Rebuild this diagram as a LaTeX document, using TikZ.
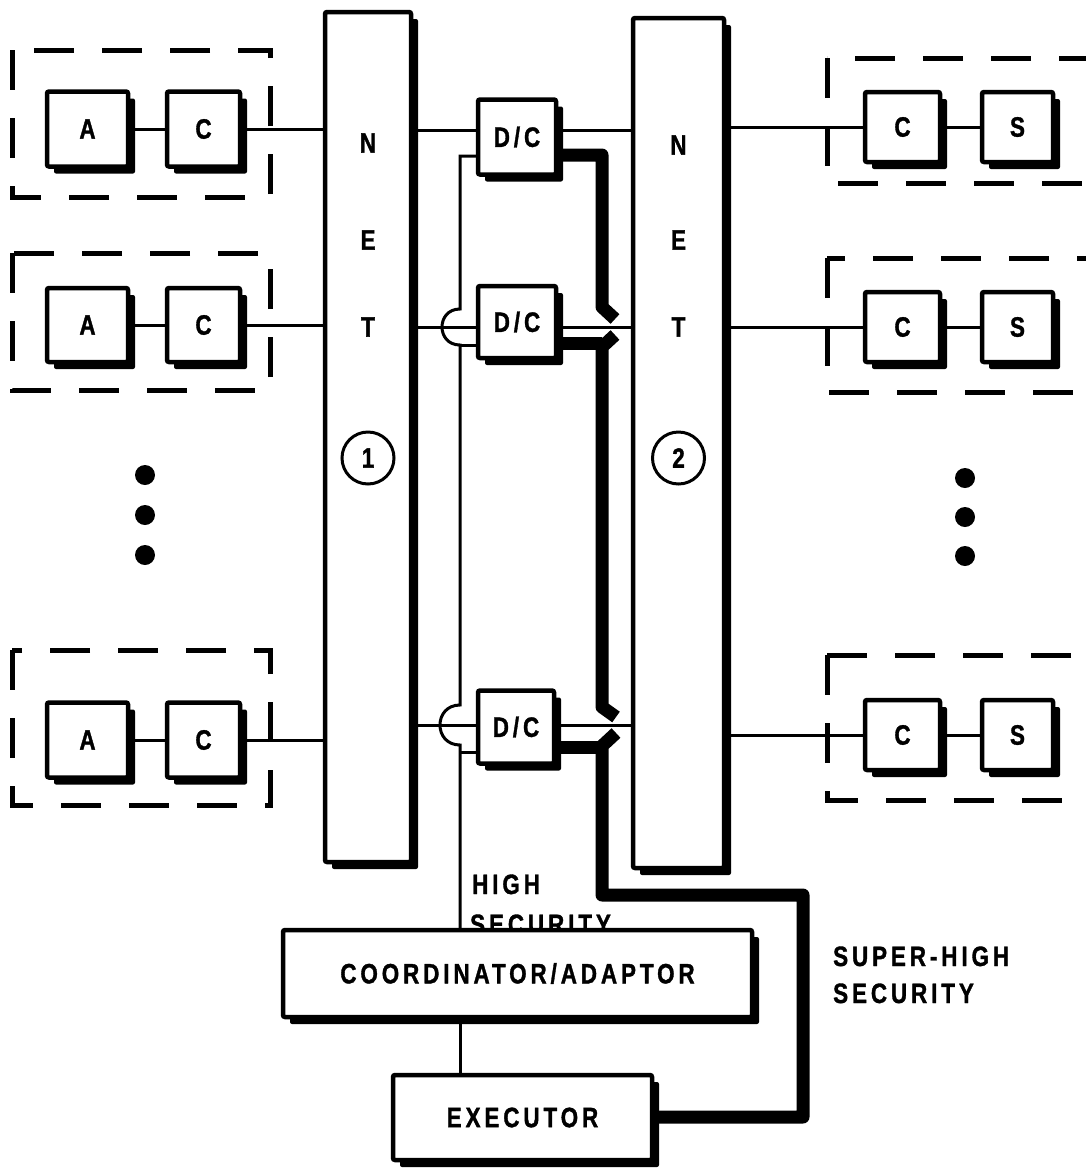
\documentclass[tikz,border=0pt]{standalone}
\usepackage{fontspec}
\newfontfamily\labfont{Liberation Sans}[FakeStretch=0.8,LetterSpace=14,FakeBold=1.2]
\usetikzlibrary{shadows}
\tikzset{
 lbl/.style={font=\labfont\bfseries\fontsize{28}{32}\selectfont},
 sbox/.style={draw, line width=4.5pt, fill=white, rounded corners=2pt, inner sep=0pt, lbl,
   drop shadow={shadow xshift=7pt, shadow yshift=-7pt, opacity=1, fill=black}},
 grp/.style={draw, line width=5pt, dash pattern=on 40pt off 28pt},
 wire/.style={line width=3pt},
 heavy/.style={line width=13pt, line join=round},
 dotn/.style={circle, fill=black, minimum size=20pt, inner sep=0pt},
 numc/.style={circle, draw, line width=3pt, fill=white, minimum size=52pt, inner sep=0pt, lbl},
 txt/.style={lbl, inner sep=0pt},
}
\begin{document}
\begin{tikzpicture}[x=1pt,y=-1pt]
\clip (0,0) rectangle (1086,1171);
\fill[white] (0,0) rectangle (1086,1171);

% dashed group frames
\draw[grp] (12,50) rectangle (270,197);
\draw[grp] (12,253) rectangle (270,390);
\draw[grp] (12,650) rectangle (270,805);
\draw[grp] (827,58) rectangle (1110,183);
\draw[grp] (827,258) rectangle (1110,392);
\draw[grp] (827,655) rectangle (1110,800);

% coordinates for levels
\coordinate (tx) at (460,0);
\coordinate (y1) at (0,130);
\coordinate (y2) at (0,327);
\coordinate (y3) at (0,725);
\coordinate (b1) at (0,156);
\coordinate (b2) at (0,345);
\coordinate (b3) at (0,752);
\coordinate (k1) at (0,155);
\coordinate (k2) at (0,343);
\coordinate (k3) at (0,747);
\coordinate (k4) at (0,1117);

% nets
\node[sbox, minimum width=86pt, minimum height=850pt] (net1) at (368,437) {};
\node[sbox, minimum width=91pt, minimum height=850pt] (net2) at (678.5,443) {};

% left groups
\node[sbox, minimum width=81pt, minimum height=75pt] (a1) at (87.5,129) {A};
\node[sbox, minimum width=73pt, minimum height=75pt] (c1) at (203.5,129) {C};
\node[sbox, minimum width=81pt, minimum height=74pt] (a2) at (87.5,325) {A};
\node[sbox, minimum width=73pt, minimum height=74pt] (c2) at (203.5,325) {C};
\node[sbox, minimum width=81pt, minimum height=75pt] (a3) at (87.5,740) {A};
\node[sbox, minimum width=73pt, minimum height=75pt] (c3) at (203.5,740) {C};

% right groups
\node[sbox, minimum width=75pt, minimum height=70pt] (rc1) at (902.5,127) {C};
\node[sbox, minimum width=71pt, minimum height=70pt] (rs1) at (1017.5,127) {S};
\node[sbox, minimum width=75pt, minimum height=70pt] (rc2) at (902.5,327) {C};
\node[sbox, minimum width=71pt, minimum height=70pt] (rs2) at (1017.5,327) {S};
\node[sbox, minimum width=75pt, minimum height=70pt] (rc3) at (902.5,735) {C};
\node[sbox, minimum width=71pt, minimum height=70pt] (rs3) at (1017.5,735) {S};

% D/C boxes
\node[sbox, minimum width=78pt, minimum height=75pt] (dc1) at (517,137) {D/C};
\node[sbox, minimum width=78pt, minimum height=72pt] (dc2) at (517,322) {D/C};
\node[sbox, minimum width=76pt, minimum height=73pt] (dc3) at (516,727) {D/C};

% coordinator, executor
\node[txt, anchor=base west] (hs1) at (472,894) {HIGH};
\node[txt, anchor=base west] (hs2) at (470,934) {SECURITY};
\node[sbox, minimum width=469pt, minimum height=87pt] (coord) at (517.5,973.5) {COORDINATOR/ADAPTOR};
\node[sbox, minimum width=259pt, minimum height=85pt] (exec) at (522.5,1117.5) {EXECUTOR};
\node[txt, anchor=base west] (sh1) at (833,966) {SUPER-HIGH};
\node[txt, anchor=base west] (sh2) at (833,1003) {SECURITY};

% connectors
\draw[wire] (a1) -- (c1);
\draw[wire] (c1.east) -- (c1.east -| net1.west);
\draw[wire] (a2) -- (c2);
\draw[wire] (c2.east) -- (c2.east -| net1.west);
\draw[wire] (a3) -- (c3);
\draw[wire] (c3.east) -- (c3.east -| net1.west);

\draw[wire] (rc1.west -| net2.east) -- (rc1.west);
\draw[wire] (rc1) -- (rs1);
\draw[wire] (rc2.west -| net2.east) -- (rc2.west);
\draw[wire] (rc2) -- (rs2);
\draw[wire] (rc3.west -| net2.east) -- (rc3.west);
\draw[wire] (rc3) -- (rs3);

\draw[wire] (net1.east |- y1) -- (dc1.west |- y1);
\draw[wire] (dc1.east |- y1) -- (net2.west |- y1);
\draw[wire] (net1.east |- y2) -- (dc2.west |- y2);
\draw[wire] (dc2.east |- y2) -- (net2.west |- y2);
\draw[wire] (net1.east |- y3) -- (dc3.west |- y3);
\draw[wire] (dc3.east |- y3) -- (net2.west |- y3);

% high security (thin) control line
\draw[wire] (dc1.west |- b1) -- (tx |- b1) -- (460,309)
  .. controls (436,309) and (436,345) .. (460,345) -- (460,705)
  .. controls (433.3,705) and (433.3,745) .. (460,745) -- (coord.north -| tx);
\draw[wire] (tx |- b2) -- (dc2.west |- b2);
\draw[wire] (tx |- b3) -- (dc3.west |- b3);
\draw[wire] (coord.south -| tx) -- (exec.north -| tx);

% super-high security (heavy) control line
\draw[heavy] (dc1.east |- k1) -- (602,155) -- (602,307) -- (615,319);
\draw[heavy] (615,335) -- (602,347) -- (602,707) -- (616,717);
\draw[heavy] (dc2.east |- k2) -- (602,343);
\draw[heavy] (616,733) -- (602,746) -- (602,895) -- (803,895) -- (803,1117) -- (exec.east |- k4);
\draw[heavy] (dc3.east |- k3) -- (602,747);

% net labels
\node[txt] (n1n) at (368,143) {N};
\node[txt] (n1e) at (368,240) {E};
\node[txt] (n1t) at (368,327) {T};
\node[numc] (n1c) at (368,458) {1};
\node[txt] (n2n) at (678.5,145) {N};
\node[txt] (n2e) at (678.5,240) {E};
\node[txt] (n2t) at (678.5,327) {T};
\node[numc] (n2c) at (678.5,458) {2};

% ellipsis dots
\node[dotn] (ld1) at (145,475) {};
\node[dotn] (ld2) at (145,515) {};
\node[dotn] (ld3) at (145,555) {};
\node[dotn] (rd1) at (965,478) {};
\node[dotn] (rd2) at (965,517) {};
\node[dotn] (rd3) at (965,556) {};
\end{tikzpicture}
\end{document}
